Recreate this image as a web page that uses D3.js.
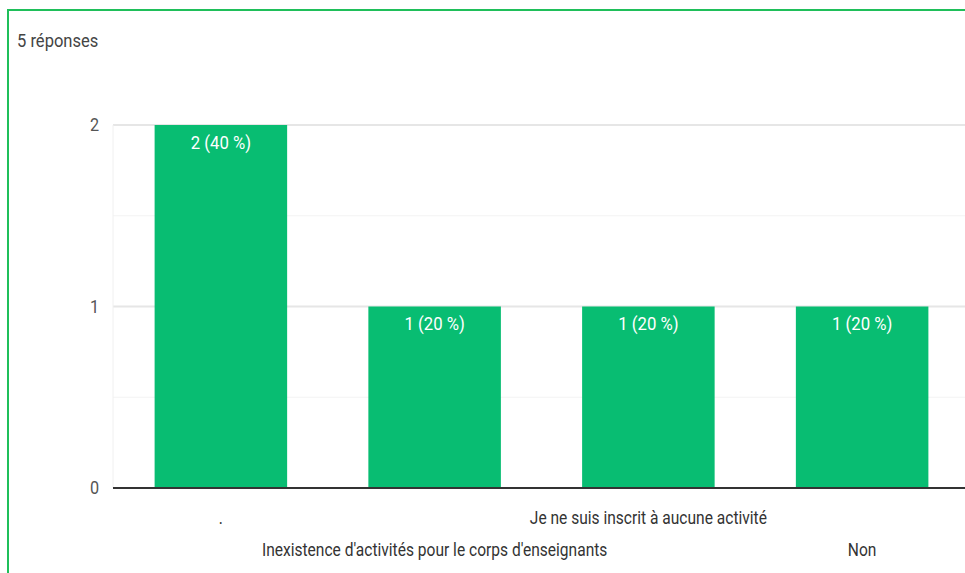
<!DOCTYPE html>
<html><head><meta charset="utf-8">
<script src="https://cdn.jsdelivr.net/npm/d3@7"></script>
<style>body{margin:0;background:#fff;}svg{display:block;font-family:Roboto,"Noto Sans",sans-serif;}</style>
</head><body>
<svg id="c" width="965" height="573"></svg>
<script>
const categories = [".", "Inexistence d'activités pour le corps d'enseignants", "Je ne suis inscrit à aucune activité", "Non"];
const values = [2, 1, 1, 1];
const labels = ["2 (40 %)", "1 (20 %)", "1 (20 %)", "1 (20 %)"];
const yTicks = [0, 1, 2];
const minorTicks = [0.5, 1.5];
const title = "5 réponses";

(function () {
const svg = d3.select("#c");
const W = 965;
const pLeft = 113, pRight = 969, pTop = 125, pBottom = 488;
const x = d3.scaleBand().domain(categories).range([114, pRight]).paddingInner(0.38).paddingOuter(0.19);
const y = d3.scaleLinear().domain([0, 2]).range([pBottom, pTop]);
const sx = (cx, s) => `translate(${cx},0) scale(${s},1) translate(${-cx},0)`;

// frame
svg.append("rect").attr("x", 8).attr("y", 10).attr("width", 970).attr("height", 600)
  .attr("fill", "none").attr("stroke", "#1fbf5a").attr("stroke-width", 2);

svg.append("text").attr("x", 17).attr("y", 47).attr("font-size", 18).attr("fill", "#444")
  .attr("transform", sx(17, 0.92)).text(title);

// gridlines
svg.append("g").selectAll("line").data(minorTicks).join("line")
  .attr("x1", pLeft).attr("x2", W).attr("y1", d => y(d)).attr("y2", d => y(d))
  .attr("stroke", "#f3f3f3").attr("stroke-width", 1);
svg.append("g").selectAll("line").data(yTicks.filter(d => d > 0)).join("line")
  .attr("x1", pLeft).attr("x2", W).attr("y1", d => y(d)).attr("y2", d => y(d))
  .attr("stroke", "#e6e6e6").attr("stroke-width", 2);
svg.append("line").attr("x1", pLeft).attr("x2", pLeft).attr("y1", pTop).attr("y2", pBottom)
  .attr("stroke", "#f0f0f0");

// y axis labels
const yAxis = d3.axisLeft(y).tickValues(yTicks).tickSize(0).tickPadding(0).tickFormat(d3.format("d"));
const ga = svg.append("g").attr("transform", "translate(99,0)").call(yAxis);
ga.select(".domain").remove();
ga.selectAll("text").attr("font-size", 18).attr("fill", "#555").attr("font-family", "Roboto, sans-serif")
  .attr("transform", "scale(0.9,1)");

// bars
svg.append("g").selectAll("rect").data(categories).join("rect")
  .attr("x", d => x(d)).attr("width", x.bandwidth())
  .attr("y", (d, i) => y(values[i])).attr("height", (d, i) => y(0) - y(values[i]))
  .attr("fill", "#08bd72");

svg.append("g").selectAll("text").data(categories).join("text")
  .attr("x", d => x(d) + x.bandwidth() / 2).attr("y", (d, i) => y(values[i]) + 24)
  .attr("text-anchor", "middle").attr("font-size", 18).attr("fill", "#fff")
  .attr("transform", d => sx(x(d) + x.bandwidth() / 2, 0.93))
  .text((d, i) => labels[i]);

// baseline
svg.append("line").attr("x1", pLeft).attr("x2", W).attr("y1", y(0)).attr("y2", y(0))
  .attr("stroke", "#333").attr("stroke-width", 2);

// category labels (staggered)
svg.append("g").selectAll("text").data(categories).join("text")
  .attr("x", d => x(d) + x.bandwidth() / 2).attr("y", (d, i) => i % 2 === 0 ? 524 : 556)
  .attr("text-anchor", "middle").attr("font-size", 18).attr("fill", "#333")
  .attr("transform", d => sx(x(d) + x.bandwidth() / 2, 0.865))
  .text(d => d);
})();
</script>
</body></html>
